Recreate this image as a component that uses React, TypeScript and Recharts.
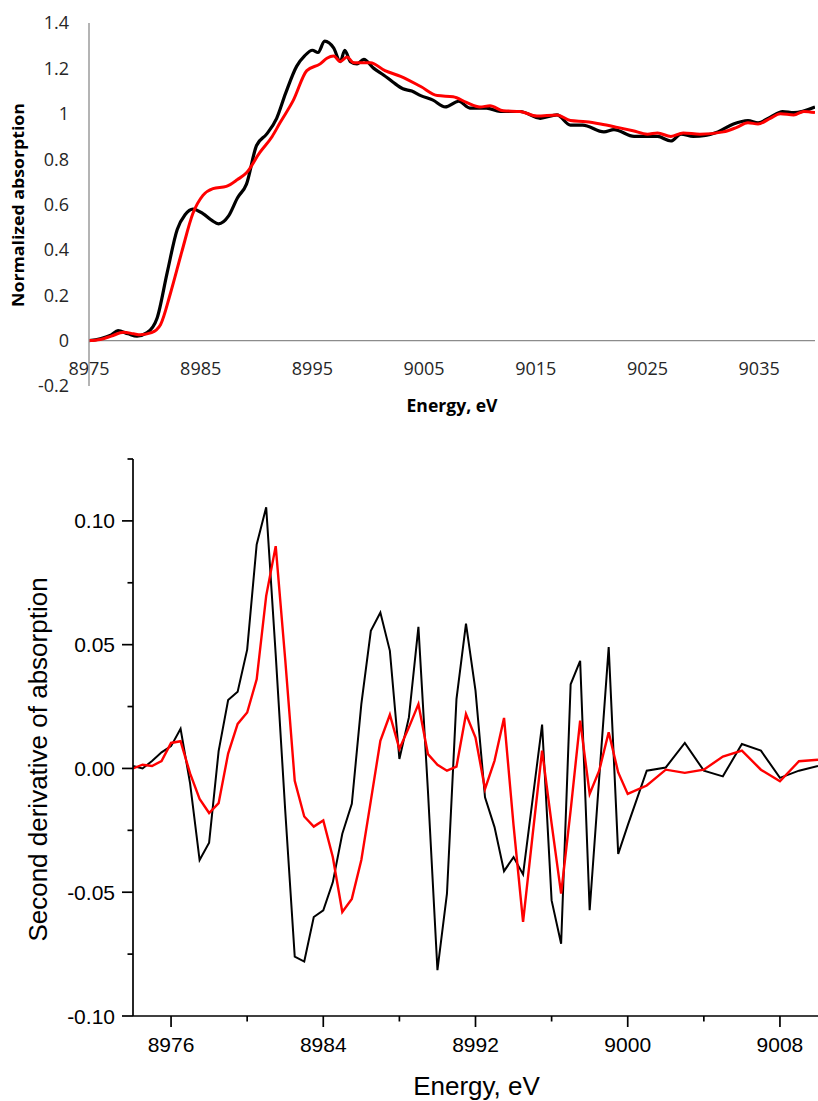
import { LineChart, Line, XAxis, YAxis, ReferenceLine } from 'recharts';

// XANES spectra (top panel)
const xasEnergyBlack = [
  8975, 8976, 8977, 8977.6, 8978.5, 8979.3, 8980.2, 8981.1, 8982, 8982.9, 8983.6, 8984.3, 8985.2, 8986,
  8986.6, 8987.5, 8988.3, 8989.1, 8990, 8990.9, 8991.8, 8992.6, 8993.6, 8994.3, 8995, 8995.5, 8996.1,
  8996.9, 8997.5, 8997.9, 8998.4, 8999, 8999.6, 9000.5, 9001.4, 9002.2, 9003.1, 9003.9, 9004.7, 9005.8,
  9006.9, 9008.1, 9009.1, 9010.6, 9011.8, 9013.6, 9015.4, 9016.9, 9018.1, 9019.2, 9021.1, 9022, 9023.8,
  9025.9, 9027.1, 9028, 9029.1, 9031.3, 9032.7, 9034, 9034.9, 9036, 9037.1, 9038.1, 9040,
];
const xasBlack = [
  0, 0.008, 0.025, 0.044, 0.03, 0.02, 0.035, 0.1, 0.3, 0.49, 0.555, 0.58, 0.56, 0.53,
  0.515, 0.55, 0.63, 0.69, 0.86, 0.91, 0.98, 1.09, 1.21, 1.255, 1.28, 1.27, 1.32,
  1.29, 1.23, 1.28, 1.23, 1.22, 1.24, 1.2, 1.17, 1.14, 1.11, 1.1, 1.08, 1.06,
  1.03, 1.055, 1.025, 1.025, 1.01, 1.01, 0.98, 0.995, 0.95, 0.95, 0.92, 0.93, 0.9,
  0.9, 0.88, 0.91, 0.9, 0.92, 0.955, 0.97, 0.96, 0.985, 1.01, 1.005, 1.03,
];
const xasEnergyRed = [
  8975, 8976, 8977, 8978.1, 8979, 8979.6, 8980.6, 8981.4, 8982.3, 8983.3, 8984.3, 8985.2, 8986.1, 8987.3,
  8988.3, 8989.1, 8990.3, 8991.4, 8992.1, 8993.3, 8994.5, 8995.7, 8996.3, 8996.9, 8997.5, 8998.1, 8998.7,
  9000.2, 9001.5, 9002.9, 9004.7, 9006.2, 9007.6, 9008.8, 9010, 9010.9, 9012.1, 9013.6, 9015.1, 9016.9,
  9018.1, 9019.5, 9020.8, 9022.3, 9023.7, 9025, 9025.9, 9027.1, 9028.2, 9029.7, 9031.8, 9033, 9034,
  9034.9, 9036, 9036.9, 9038.1, 9039, 9040,
];
const xasRed = [
  0, 0.005, 0.02, 0.037, 0.03, 0.026, 0.035, 0.07, 0.21, 0.39, 0.56, 0.64, 0.67, 0.68,
  0.71, 0.74, 0.83, 0.9, 0.96, 1.06, 1.19, 1.22, 1.245, 1.255, 1.23, 1.25, 1.225,
  1.225, 1.19, 1.165, 1.12, 1.08, 1.075, 1.05, 1.03, 1.035, 1.013, 1.01, 0.99, 0.995,
  0.97, 0.965, 0.955, 0.94, 0.925, 0.91, 0.915, 0.9, 0.915, 0.91, 0.92, 0.94, 0.96,
  0.955, 0.98, 1.0, 0.995, 1.01, 1.005,
];
const xasXTicks = [8975, 8985, 8995, 9005, 9015, 9025, 9035];
const xasYTicks = [-0.2, 0, 0.2, 0.4, 0.6, 0.8, 1, 1.2, 1.4];

// second derivative (bottom panel)
const derivEnergy = [
  8974, 8974.5, 8975, 8975.5, 8976, 8976.5, 8977, 8977.5, 8978, 8978.5, 8979, 8979.5, 8980, 8980.5,
  8981, 8981.5, 8982, 8982.5, 8983, 8983.5, 8984, 8984.5, 8985, 8985.5, 8986, 8986.5, 8987, 8987.5,
  8988, 8988.5, 8989, 8989.5, 8990, 8990.5, 8991, 8991.5, 8992, 8992.5, 8993, 8993.5, 8994, 8994.5,
  8995, 8995.5, 8996, 8996.5, 8997, 8997.5, 8998, 8998.5, 8999, 8999.5, 9000, 9001, 9002, 9003,
  9004, 9005, 9006, 9007, 9008, 9009, 9010,
];
const derivBlack = [
  0.001, 0.0, 0.003, 0.0065, 0.009, 0.016, -0.006, -0.037, -0.03, 0.007, 0.0276, 0.031, 0.048, 0.0905,
  0.1055, 0.046, -0.017, -0.076, -0.078, -0.06, -0.0573, -0.046, -0.0264, -0.0143, 0.026, 0.0556, 0.063, 0.0475,
  0.0038, 0.0206, 0.0572, -0.009, -0.0815, -0.0506, 0.028, 0.0585, 0.0314, -0.0117, -0.0237, -0.0415, -0.0358, -0.0428,
  -0.0126, 0.0177, -0.0533, -0.0708, 0.034, 0.0435, -0.0573, -0.004, 0.049, -0.0345, -0.023, -0.0009, 0.0004, 0.0103,
  -0.0009, -0.0032, 0.0099, 0.0072, -0.0038, -0.0009, 0.001,
];
const derivRed = [
  0.0, 0.0015, 0.001, 0.003, 0.0103, 0.011, -0.002, -0.0123, -0.018, -0.014, 0.006, 0.018, 0.0226, 0.036,
  0.0697, 0.0898, 0.044, -0.005, -0.0194, -0.0235, -0.021, -0.0358, -0.058, -0.0527, -0.037, -0.013, 0.0112, 0.0217,
  0.0079, 0.0166, 0.026, 0.0058, 0.0015, -0.0009, 0.0007, 0.022, 0.0125, -0.0083, 0.0031, 0.0204, -0.023, -0.062,
  -0.027, 0.0072, -0.0223, -0.0506, -0.0169, 0.0193, -0.0103, -0.0009, 0.0146, -0.0016, -0.0103, -0.0069, -0.0005, -0.0018,
  -0.0005, 0.0048, 0.0072, -0.0005, -0.0052, 0.0029, 0.0035,
];
const derivXTicks = [8976, 8980, 8984, 8988, 8992, 8996, 9000, 9004, 9008];
const derivYTicks = [-0.1, -0.075, -0.05, -0.025, 0, 0.025, 0.05, 0.075, 0.1, 0.125];

const blackSpectrum = xasEnergyBlack.map((e, i) => ({ e, v: xasBlack[i] }));
const redSpectrum = xasEnergyRed.map((e, i) => ({ e, v: xasRed[i] }));
const derivData = derivEnergy.map((e, i) => ({ e, black: derivBlack[i], red: derivRed[i] }));

const TOP_FONT = "'Open Sans', sans-serif";
const BOTTOM_FONT = "'Liberation Sans', Arial, sans-serif";
const AXIS_GRAY = '#8c8c8c';

const XasXTick = ({ x, y, payload }: any) => (
  <text x={x} y={y - 11} textAnchor="middle" fill="#262626" fontSize={18} fontFamily={TOP_FONT}>
    {payload.value}
  </text>
);

const isMajor = (v: number, step: number, base: number) => {
  const k = (v - base) / step;
  return Math.abs(k - Math.round(k)) < 1e-6;
};

const DerivXTick = ({ x, y, payload }: any) => {
  const major = isMajor(payload.value, 8, 8976);
  return (
    <g>
      <line x1={x} x2={x} y1={y} y2={y + (major ? 11 : 5.5)} stroke="#000" strokeWidth={1.7} />
      {major && (
        <text x={x} y={y + 36} textAnchor="middle" fill="#000" fontSize={21} fontFamily={BOTTOM_FONT}>
          {payload.value}
        </text>
      )}
    </g>
  );
};

const DerivYTick = ({ x, y, payload }: any) => {
  const major = isMajor(payload.value, 0.05, 0);
  return (
    <g>
      <line x1={x - (major ? 11 : 5.5)} x2={x} y1={y} y2={y} stroke="#000" strokeWidth={1.7} />
      {major && (
        <text x={x - 18} y={y + 7.5} textAnchor="end" fill="#000" fontSize={21} fontFamily={BOTTOM_FONT}>
          {payload.value.toFixed(2)}
        </text>
      )}
    </g>
  );
};

export default function App() {
  return (
    <div style={{ position: 'absolute', left: 0, top: 0, width: 818, height: 1101, background: '#fff' }}>
      <div style={{ position: 'absolute', left: 0, top: 0 }}>
        <LineChart width={818} height={420} margin={{ top: 23, right: 3, bottom: 4, left: 0 }}>
          <XAxis
            type="number"
            dataKey="e"
            domain={[8975, 9040]}
            ticks={xasXTicks}
            interval={0}
            allowDataOverflow
            height={30}
            axisLine={false}
            tickLine={false}
            tickSize={0}
            tickMargin={0}
            tick={XasXTick}
          />
          <YAxis
            type="number"
            domain={[-0.2, 1.4]}
            ticks={xasYTicks}
            interval={0}
            allowDataOverflow
            width={89}
            axisLine={{ stroke: AXIS_GRAY, strokeWidth: 1.3 }}
            tickLine={false}
            tickSize={0}
            tickMargin={20}
            tick={{ fill: '#262626', fontSize: 18, fontFamily: TOP_FONT }}
            tickFormatter={(v: number) => String(v)}
          />
          <ReferenceLine y={0} stroke={AXIS_GRAY} strokeWidth={1.3} />
          <Line
            data={blackSpectrum}
            dataKey="v"
            type="monotone"
            stroke="#000"
            strokeWidth={3.2}
            dot={false}
            isAnimationActive={false}
          />
          <Line
            data={redSpectrum}
            dataKey="v"
            type="monotone"
            stroke="#ff0000"
            strokeWidth={3}
            dot={false}
            isAnimationActive={false}
          />
        </LineChart>
      </div>

      <div style={{ position: 'absolute', left: 0, top: 440 }}>
        <LineChart width={818} height={661} data={derivData} margin={{ top: 19, right: 0, bottom: 0, left: 0 }}>
          <XAxis
            type="number"
            dataKey="e"
            domain={[8974, 9010]}
            ticks={derivXTicks}
            interval={0}
            allowDataOverflow
            height={85}
            axisLine={{ stroke: '#000', strokeWidth: 1.7 }}
            tickLine={false}
            tickSize={0}
            tickMargin={0}
            tick={DerivXTick}
          />
          <YAxis
            type="number"
            domain={[-0.1, 0.125]}
            ticks={derivYTicks}
            interval={0}
            allowDataOverflow
            width={133}
            axisLine={{ stroke: '#000', strokeWidth: 1.7 }}
            tickLine={false}
            tickSize={0}
            tickMargin={0}
            tick={DerivYTick}
          />
          <Line dataKey="black" type="linear" stroke="#000" strokeWidth={2} dot={false} isAnimationActive={false} />
          <Line dataKey="red" type="linear" stroke="#ff0000" strokeWidth={2.4} dot={false} isAnimationActive={false} />
        </LineChart>
      </div>

      <svg
        width={818}
        height={1101}
        style={{ position: 'absolute', left: 0, top: 0, pointerEvents: 'none' }}
      >
        <text
          transform="translate(24,205) rotate(-90)"
          textAnchor="middle"
          fontSize={16}
          fontWeight="bold"
          fontFamily={TOP_FONT}
          fill="#000"
          textLength={204}
          lengthAdjust="spacingAndGlyphs"
        >
          Normalized absorption
        </text>
        <text
          x={452}
          y={412}
          textAnchor="middle"
          fontSize={18}
          fontWeight="bold"
          fontFamily={TOP_FONT}
          fill="#000"
          textLength={91}
          lengthAdjust="spacingAndGlyphs"
        >
          Energy, eV
        </text>
        <text
          transform="translate(47,759.5) rotate(-90)"
          textAnchor="middle"
          fontSize={26}
          fontFamily={BOTTOM_FONT}
          fill="#000"
        >
          Second derivative of absorption
        </text>
        <text x={476.5} y={1095} textAnchor="middle" fontSize={26} fontFamily={BOTTOM_FONT} fill="#000">
          Energy, eV
        </text>
      </svg>
    </div>
  );
}
